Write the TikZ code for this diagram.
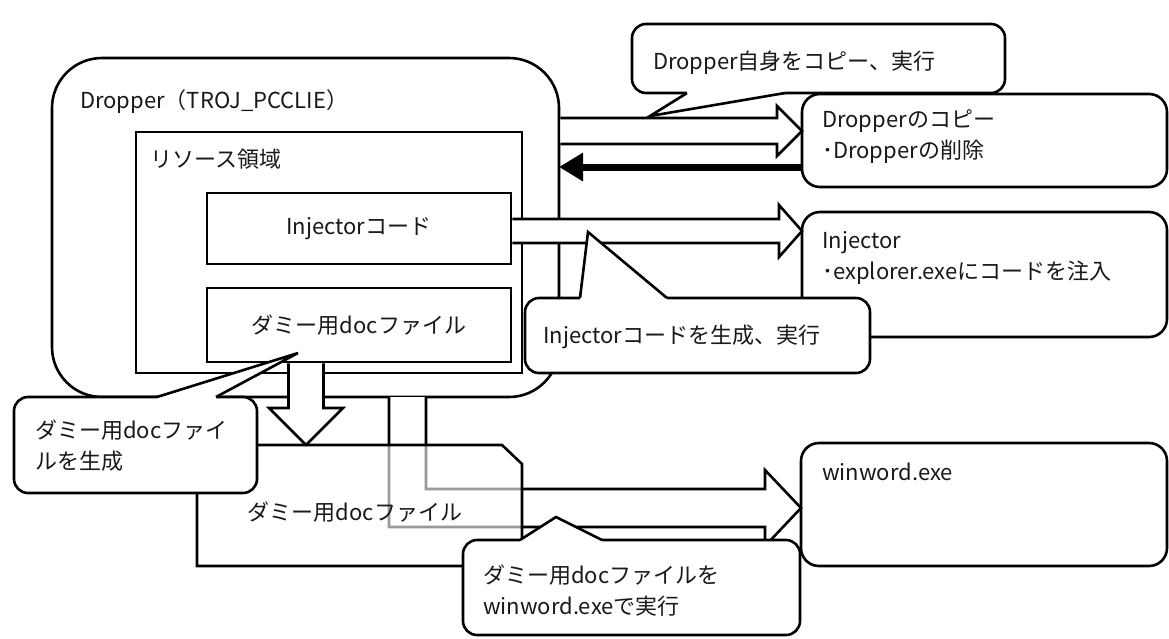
\documentclass[tikz,border=0pt]{standalone}
\usepackage{fontspec}
\setmainfont{Noto Sans CJK JP}
\usetikzlibrary{calc,arrows.meta}

% box node from its top-left and bottom-right corners (pixel units, y downwards)
\newcommand\mkbox[6]{\node[#2, minimum width={(#5-#3)*1pt}, minimum height={(#6-#4)*1pt}] (#1) at (#3,#4) {};}
% hollow block arrow pointing right: start, tip, half body, half head, head length
\newcommand\rblock[5]{\draw[blk] ($(#1)+(0,-#3)$) -- ($(#2)+(-#5,-#3)$) -- ($(#2)+(-#5,-#4)$) -- (#2)
  -- ($(#2)+(-#5,#4)$) -- ($(#2)+(-#5,#3)$) -- ($(#1)+(0,#3)$);}
% hollow block arrow pointing down
\newcommand\dblock[5]{\draw[blk] ($(#1)+(-#3,0)$) -- ($(#2)+(-#3,-#5)$) -- ($(#2)+(-#4,-#5)$) -- (#2)
  -- ($(#2)+(#4,-#5)$) -- ($(#2)+(#3,-#5)$) -- ($(#1)+(#3,0)$);}
% speech-bubble pointer: base point, tip, base point, inward shift
\newcommand\pointer[4]{\fill[white] ($#1+(#4)$) -- #1 -- #2 -- #3 -- ($#3+(#4)$) -- cycle;
  \draw[ln] #1 -- #2 -- #3;}

\begin{document}
\begin{tikzpicture}[x=1pt,y=-1pt,
  ln/.style={line width=2.6pt, line join=miter},
  box/.style={ln, draw=black, fill=white, rectangle, anchor=north west, inner sep=0pt, outer sep=0pt},
  rbox/.style={box, rounded corners=18pt},
  callbox/.style={box, rounded corners=14pt},
  blk/.style={ln, draw=black, fill=white},
  txt/.style={font=\fontsize{22}{31}\selectfont, text=black!90, inner sep=0pt, anchor=west, align=left},
]
\fill[white] (0,0) rectangle (1169,638);
\useasboundingbox (0,0) rectangle (1169,638);

% Dropper and its resource section
\mkbox{drop}{box, rounded corners=50pt}{52}{58}{559}{397}
\mkbox{res}{box}{136}{132}{522}{373}
\mkbox{injc}{box}{207}{193}{511}{264}
\mkbox{docb}{box}{207}{288}{511}{362}
\node[txt] (tdrop) at (80,102) {Dropper（TROJ\_PCCLIE）};
\node[txt] (tres) at (150,159) {リソース領域};
\node[txt, anchor=center] (tinjc) at (injc) {Injectorコード};
\node[txt, anchor=center] (tdocb) at (docb) {ダミー用docファイル};

% processes on the right
\mkbox{copy}{rbox}{802}{94}{1167}{187}
\mkbox{injx}{rbox}{802}{212}{1167}{337}
\mkbox{ww}{rbox}{801}{443}{1167}{566}
\node[txt] (tcopy) at (822,137) {Dropperのコピー\\･Dropperの削除};
\node[txt] (tinjx) at (822,258) {Injector\\･explorer.exeにコードを注入};
\node[txt] (tww) at (822,472) {winword.exe};

% Dropper copies itself
\coordinate (a1s) at ($(drop.east |- 0,131)+(1.3,0)$);
\coordinate (a1e) at (copy.west |- 0,131);
\rblock{a1s}{a1e}{13}{25}{25}
% the copy deletes the original
\draw[line width=7pt, -{Triangle[length=24pt,width=27pt]}] (copy.west |- 0,167) -- (drop.east |- 0,167);
% Injector code is written out and run
\coordinate (a3s) at ($(injc.east |- 0,231)+(1.3,0)$);
\coordinate (a3e) at (injx.west |- 0,231);
\rblock{a3s}{a3e}{12}{26}{23}
% decoy document is written out
\coordinate (a4s) at ($(docb.south -| 306,0)+(0,1.3)$);
\coordinate (dtop) at (306,445);
\dblock{a4s}{dtop}{17.5}{37}{37}
% decoy document opened with winword.exe
\draw[blk] (drop.south -| 389,0) -- (389,527) -- (765,527) -- (765,546) -- (ww.west |- 0,508)
  -- (765,470) -- (765,489) -- (426,489) -- (drop.south -| 426,0);

% dropped decoy document (translucent, the arrow shows through)
\draw[ln, fill=white, fill opacity=0.6] (197,445) -- (502,445) -- (522,464) -- (522,566) -- (197,566) -- cycle;
\node[txt, anchor=center] (tdoc) at (355,512) {ダミー用docファイル};

% speech bubbles
\mkbox{c1}{callbox}{632}{24}{1005}{93}
\pointer{(687,93)}{(650,116)}{(785,93)}{0,-4}
\node[txt] (tc1) at (653,63) {Dropper自身をコピー、実行};

\mkbox{c2}{callbox}{525}{298}{870}{373}
\pointer{(580,298)}{(588,232)}{(667,298)}{0,4}
\node[txt] (tc2) at (543,337) {Injectorコードを生成、実行};

\mkbox{c3}{callbox}{14}{397}{257}{493}
\pointer{(157,397)}{(298,353)}{(216,397)}{0,4}
\node[txt] (tc3) at (35,446) {ダミー用docファイ\\ルを生成};

\mkbox{c4}{callbox}{463}{540}{800}{635}
\pointer{(520,540)}{(556,517)}{(602,540)}{0,4}
\node[txt] (tc4) at (483,591) {ダミー用docファイルを\\winword.exeで実行};
\end{tikzpicture}
\end{document}
